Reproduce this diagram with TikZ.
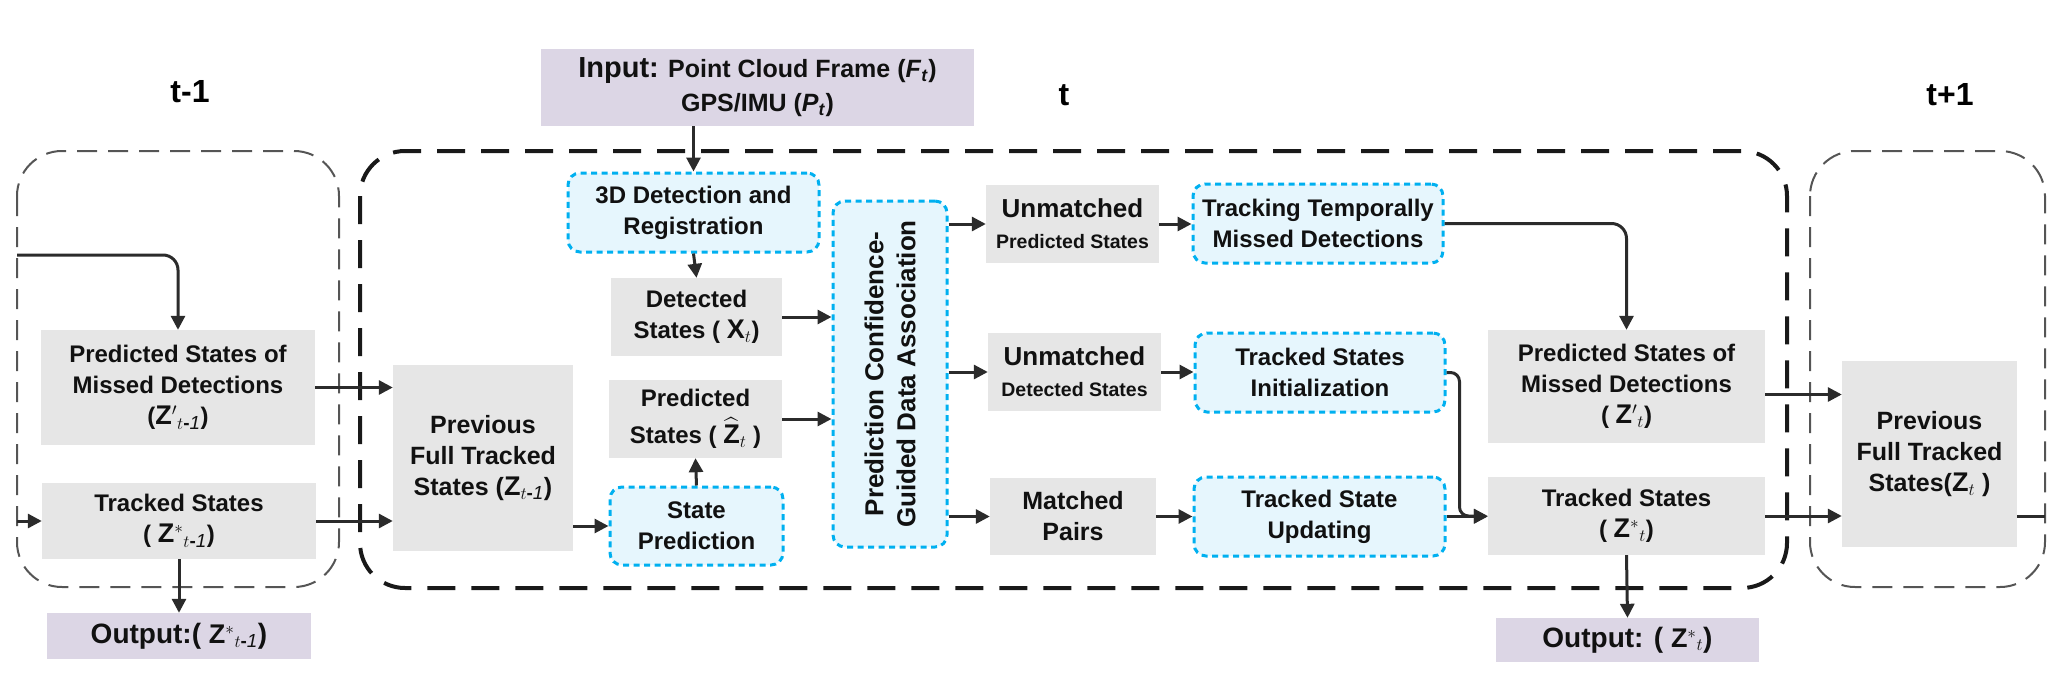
\documentclass[tikz,border=0pt]{standalone}
\usepackage{amsmath}
\usepackage{fontspec}
\setmainfont{Liberation Sans}
\usetikzlibrary{arrows.meta,calc}
\definecolor{boxgray}{HTML}{E6E6E6}
\definecolor{boxpurple}{HTML}{DCD6E5}
\definecolor{cyanline}{HTML}{00B0F0}
\definecolor{cyanfill}{HTML}{E6F6FD}
\definecolor{arrowc}{HTML}{2B2B2B}
\definecolor{txt}{HTML}{111111}
\definecolor{framegray}{HTML}{555555}
\newcommand{\zmathbig}[1]{{\fontsize{27}{31}\selectfont$#1$}}
\begin{document}
\begin{tikzpicture}[x=1pt,y=-1pt,
  sz/.style 2 args={minimum width=#1pt, minimum height=#2pt},
  gbox/.style={fill=boxgray, draw=none, inner sep=0pt, align=center, text=txt,
    font={\fontsize{24}{31}\selectfont\bfseries}},
  pbox/.style={gbox, fill=boxpurple},
  cbox/.style={gbox, fill=cyanfill, draw=cyanline, line width=3pt,
    dash pattern=on 6pt off 4.5pt, rounded corners=12pt},
  lbl/.style={text=black, font={\fontsize{32}{36}\selectfont\bfseries}},
  tframe/.style={draw=black!90, line width=4pt, dash pattern=on 28pt off 16pt, rounded corners=45pt},
  sframe/.style={draw=framegray, line width=2pt, dash pattern=on 20pt off 11pt, rounded corners=45pt},
  arr/.style={draw=arrowc, line width=3pt, -{Triangle[length=14pt,width=14pt]}},
  plain/.style={draw=arrowc, line width=3pt}
]
\useasboundingbox (0,0) rectangle (2065,691);

% time frames
\draw[sframe] (17,151) rectangle (339,587);
\draw[tframe] (360,151) rectangle (1787,588);
\draw[sframe] (1810,151) rectangle (2045,587);

% labels
\node[lbl] (lt1) at (190,92) {t-1};
\node[lbl] (lt) at (1064,95) {t};
\node[lbl] (lt2) at (1950,95) {t+1};

% input
\node[pbox, sz={433}{77}, font={\fontsize{25}{34}\selectfont\bfseries}] (input) at (757.5,87.5)
  {{\fontsize{29}{34}\selectfont Input:} Point Cloud Frame (\textit{F}\textsubscript{\textit{t}})\\GPS/IMU (\textit{P}\textsubscript{\textit{t}})};

% t-1 column
\node[gbox, sz={274}{115}] (pm1) at (178,387.5)
  {Predicted States of\\Missed Detections\\(\zmathbig{\mathbf{Z}'{}_{t\text{-}\mathit{1}}})};
\node[gbox, sz={274}{76}] (ts1) at (179,521)
  {Tracked States\\( \zmathbig{\mathbf{Z}^{*}{}_{t\text{-}\mathit{1}}})};
\node[pbox, sz={264}{46}, font={\fontsize{28}{32}\selectfont\bfseries}] (out1) at (179,636)
  {Output:( \zmathbig{\mathbf{Z}^{*}{}_{t\text{-}\mathit{1}}})};
\node[gbox, sz={180}{186}, font={\fontsize{25}{31}\selectfont\bfseries}] (pf1) at (483,458)
  {Previous\\Full Tracked\\States (\zmathbig{\mathbf{Z}_{t\text{-}\mathit{1}}})};

% t column
\node[cbox, sz={251}{79}] (det3d) at (693.5,212.5) {3D Detection and\\Registration};
\node[gbox, sz={171}{78}] (dets) at (696.5,317) {Detected\\States ( \zmathbig{\mathbf{X}_t})};
\node[gbox, sz={173}{78}] (preds) at (695.5,419) {Predicted\\[6pt]States ( \zmathbig{\widehat{\mathbf{Z}}_t} )};
\node[cbox, sz={173}{78}] (stpred) at (696.5,526) {State\\Prediction};
\node[cbox, sz={114}{346}] (assoc) at (890,374) {};
\node[rotate=90, align=center, inner sep=0pt, text=txt, font={\fontsize{26}{32}\selectfont\bfseries}] (assoctxt) at (assoc.center)
  {Prediction Confidence-\\Guided Data Association};

\node[gbox, sz={173}{78}, font={\fontsize{26}{31}\selectfont\bfseries}] (unp) at (1072.5,224)
  {Unmatched\\{\fontsize{19.5}{24}\selectfont Predicted States}};
\node[gbox, sz={173}{78}, font={\fontsize{26}{31}\selectfont\bfseries}] (und) at (1074.5,372)
  {Unmatched\\{\fontsize{19.5}{24}\selectfont Detected States}};
\node[gbox, sz={166}{77}, font={\fontsize{25}{31}\selectfont\bfseries}] (mp) at (1073,516.5) {Matched\\Pairs};

\node[cbox, sz={250}{79}] (ttmd) at (1318,223.5) {Tracking Temporally\\Missed Detections};
\node[cbox, sz={250}{79}] (tsi) at (1320,372.5) {Tracked States\\Initialization};
\node[cbox, sz={251}{79}] (tsu) at (1319.5,516.5) {Tracked State\\Updating};

\node[gbox, sz={277}{113}] (pm2) at (1626.5,386.5)
  {Predicted States of\\Missed Detections\\( \zmathbig{\mathbf{Z}'{}_{t}})};
\node[gbox, sz={277}{78}] (ts2) at (1626.5,516)
  {Tracked States\\( \zmathbig{\mathbf{Z}^{*}{}_{t}})};
\node[pbox, sz={263}{44}, font={\fontsize{28}{32}\selectfont\bfseries}] (out2) at (1627.5,640)
  {Output: ( \zmathbig{\mathbf{Z}^{*}{}_{t}})};
\node[gbox, sz={175}{186}, font={\fontsize{25}{31}\selectfont\bfseries}] (pf2) at (1929.5,454)
  {Previous\\Full Tracked\\States(\zmathbig{\mathbf{Z}_{t}} )};

% free ends
\coordinate (inA) at (17,255);
\coordinate (inB) at (17,521);
\coordinate (outR) at (2045,516);
\coordinate (tsiR) at ([xshift=13pt]tsi.east);
\coordinate (pm2a) at ([yshift=-8pt]pm2.east);

% connectors
\draw[arr, rounded corners=15pt] (inA) -| (pm1.north);
\draw[arr] (inB) -- (ts1.west);
\draw[arr] (ts1.south) -- (out1.north);
\draw[arr] (pm1.east) -- (pm1.east -| pf1.west);
\draw[arr] (ts1.east) -- (ts1.east -| pf1.west);
\draw[arr] (input.south -| det3d.north) -- (det3d.north);
\draw[arr] (det3d.south) -- (dets.north);
\draw[arr] (stpred.north) -- (preds.south);
\draw[arr] (pf1.east |- stpred.west) -- (stpred.west);
\draw[arr] (dets.east) -- (dets.east -| assoc.west);
\draw[arr] (preds.east) -- (preds.east -| assoc.west);
\draw[arr] (assoc.east |- unp.west) -- (unp.west);
\draw[arr] (assoc.east |- und.west) -- (und.west);
\draw[arr] (assoc.east |- mp.west) -- (mp.west);
\draw[arr] (unp.east) -- (unp.east -| ttmd.west);
\draw[arr] (und.east) -- (und.east -| tsi.west);
\draw[arr] (mp.east) -- (mp.east -| tsu.west);
\draw[arr, rounded corners=9pt] (tsi.east) -- (tsiR) |- (ts2.west);
\draw[arr] (tsu.east) -- (tsu.east -| ts2.west);
\draw[arr, rounded corners=15pt] (ttmd.east) -| (pm2.north);
\draw[arr] (pm2a) -- (pm2a -| pf2.west);
\draw[arr] (ts2.east) -- (ts2.east -| pf2.west);
\draw[arr] (ts2.south) -- (out2.north);
\draw[plain] (ts2.east -| pf2.east) -- (outR);
\end{tikzpicture}
\end{document}
